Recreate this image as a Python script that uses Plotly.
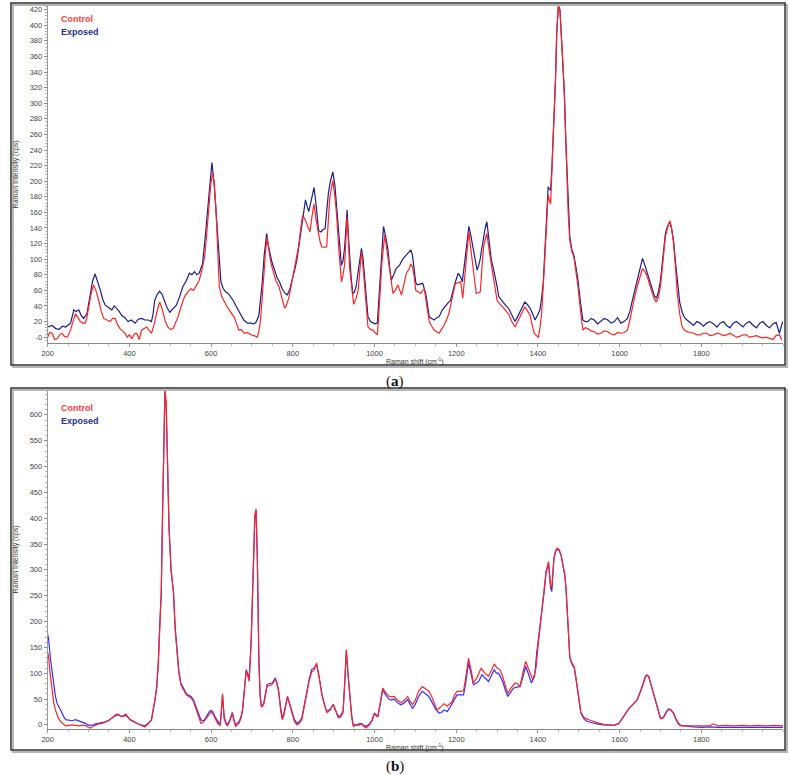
import plotly.graph_objects as go

# ---- panel (a) ----
a_exp_x = [200, 211, 220, 228, 236, 244, 256, 264, 270, 276, 282, 288, 296, 304, 310, 316, 322, 329, 335, 341,
           349, 357, 363, 369, 375, 381, 389, 397, 405, 414, 422, 430, 438, 446, 454, 458, 462, 468, 474, 480,
           486, 492, 499, 507, 515, 523, 531, 539, 547, 553, 559, 565, 571, 575, 579, 585, 592, 597, 602, 607,
           612, 618, 624, 630, 636, 642, 648, 654, 660, 666, 672, 680, 689, 697, 705, 711, 717, 721, 725, 730,
           736, 740, 745, 749, 753, 757, 761, 768, 774, 780, 786, 792, 798, 804, 810, 816, 822, 826, 831, 835,
           839, 845, 852, 857, 863, 869, 874, 879, 883, 887, 892, 898, 903, 907, 913, 919, 923, 927, 930, 933,
           936, 939, 943, 947, 951, 955, 961, 968, 972, 976, 980, 984, 990, 996, 1001, 1007, 1010, 1012, 1017, 1022,
           1027, 1033, 1037, 1041, 1047, 1053, 1061, 1069, 1077, 1085, 1089, 1093, 1097, 1101, 1105, 1111, 1118, 1122, 1126, 1130,
           1134, 1140, 1146, 1152, 1158, 1166, 1174, 1180, 1186, 1192, 1198, 1205, 1210, 1215, 1219, 1223, 1227, 1231, 1236, 1241,
           1246, 1251, 1255, 1259, 1263, 1267, 1271, 1275, 1280, 1286, 1291, 1296, 1300, 1304, 1310, 1316, 1322, 1328, 1336, 1344,
           1350, 1356, 1362, 1368, 1374, 1381, 1387, 1393, 1399, 1405, 1409, 1413, 1416, 1419, 1422, 1425, 1428, 1431, 1434, 1437,
           1440, 1443, 1446, 1450, 1454, 1458, 1462, 1465, 1468, 1471, 1474, 1478, 1483, 1488, 1493, 1498, 1504, 1510, 1516, 1522,
           1530, 1538, 1546, 1554, 1562, 1571, 1579, 1587, 1595, 1603, 1611, 1619, 1625, 1631, 1637, 1643, 1650, 1656, 1662, 1668,
           1674, 1680, 1685, 1690, 1695, 1700, 1706, 1712, 1717, 1723, 1727, 1732, 1737, 1742, 1747, 1753, 1759, 1765, 1773, 1781,
           1789, 1797, 1805, 1813, 1821, 1830, 1838, 1846, 1854, 1862, 1870, 1878, 1886, 1894, 1902, 1910, 1918, 1927, 1935, 1943,
           1951, 1959, 1967, 1975, 1983, 1991, 1995, 1999]
a_exp_y = [13, 15, 11, 10, 14, 13, 18, 35, 33, 35, 28, 24, 30, 56, 72, 81, 72, 60, 48, 41,
           38, 35, 40, 37, 33, 28, 25, 20, 22, 18, 23, 24, 22, 22, 20, 30, 47, 55, 59, 55,
           47, 38, 32, 36, 41, 52, 65, 72, 82, 80, 84, 80, 82, 88, 94, 125, 163, 200, 224, 200,
           163, 110, 71, 62, 58, 56, 52, 47, 41, 35, 30, 22, 18, 18, 17, 20, 28, 45, 69, 105,
           133, 118, 105, 96, 90, 82, 77, 70, 62, 57, 54, 60, 71, 85, 99, 120, 141, 161, 176, 168,
           161, 175, 192, 170, 137, 135, 138, 139, 160, 184, 200, 212, 195, 171, 130, 92, 98, 116, 140, 163,
           130, 99, 75, 56, 58, 65, 90, 114, 100, 77, 50, 26, 20, 18, 17, 18, 40, 65, 105, 142,
           130, 112, 90, 73, 80, 88, 92, 100, 105, 110, 112, 105, 90, 70, 67, 68, 69, 62, 54, 40,
           26, 24, 22, 25, 26, 35, 41, 44, 47, 60, 71, 82, 78, 71, 90, 107, 128, 142, 130, 116,
           98, 86, 92, 101, 115, 129, 140, 148, 125, 99, 88, 77, 65, 52, 48, 43, 40, 37, 28, 20,
           26, 32, 40, 45, 42, 37, 30, 22, 28, 35, 50, 69, 100, 133, 165, 193, 190, 188, 215, 248,
           285, 330, 390, 425, 420, 385, 345, 310, 255, 210, 165, 129, 112, 105, 90, 73, 45, 22, 20, 20,
           24, 22, 17, 20, 24, 22, 18, 20, 25, 18, 20, 24, 33, 47, 60, 73, 88, 101, 92, 82,
           70, 60, 53, 50, 58, 73, 100, 133, 142, 148, 140, 124, 95, 65, 45, 32, 25, 22, 18, 15,
           20, 18, 14, 18, 20, 17, 13, 18, 20, 15, 12, 18, 20, 17, 13, 18, 20, 15, 12, 18,
           20, 15, 12, 17, 19, 5, 12, 20]

a_ctl_x = [200, 205, 211, 217, 223, 229, 235, 241, 248, 252, 256, 262, 268, 274, 280, 286, 292, 296, 300, 306,
           312, 318, 325, 331, 337, 345, 353, 359, 365, 371, 377, 383, 389, 395, 400, 406, 412, 418, 424, 430,
           436, 442, 448, 454, 460, 466, 470, 474, 478, 482, 488, 494, 500, 507, 513, 519, 527, 535, 543, 551,
           557, 563, 567, 571, 577, 584, 589, 594, 599, 604, 608, 612, 616, 620, 626, 632, 638, 644, 650, 656,
           662, 668, 674, 681, 689, 697, 705, 713, 717, 721, 725, 729, 733, 737, 741, 745, 749, 753, 759, 766,
           772, 776, 780, 785, 790, 796, 802, 808, 814, 819, 824, 829, 834, 838, 842, 847, 852, 857, 863, 867,
           871, 877, 883, 886, 890, 894, 898, 903, 907, 913, 919, 923, 927, 930, 933, 936, 939, 944, 949, 955,
           960, 964, 968, 972, 976, 980, 984, 990, 996, 1001, 1007, 1010, 1012, 1018, 1025, 1029, 1033, 1039, 1045, 1051,
           1057, 1062, 1066, 1072, 1078, 1085, 1089, 1093, 1097, 1101, 1107, 1113, 1118, 1122, 1128, 1134, 1140, 1146, 1152, 1158,
           1164, 1170, 1176, 1182, 1190, 1198, 1205, 1211, 1216, 1220, 1224, 1228, 1231, 1236, 1241, 1245, 1249, 1254, 1259, 1263,
           1267, 1271, 1275, 1281, 1287, 1293, 1300, 1306, 1312, 1320, 1328, 1336, 1344, 1350, 1356, 1362, 1368, 1374, 1381, 1386,
           1391, 1396, 1401, 1405, 1409, 1414, 1419, 1422, 1425, 1428, 1431, 1434, 1437, 1440, 1443, 1446, 1450, 1454, 1458, 1462,
           1465, 1468, 1470, 1474, 1478, 1483, 1488, 1493, 1498, 1504, 1510, 1516, 1522, 1530, 1538, 1546, 1554, 1562, 1571, 1579,
           1587, 1595, 1603, 1611, 1619, 1625, 1631, 1637, 1643, 1650, 1656, 1662, 1668, 1674, 1680, 1685, 1690, 1695, 1700, 1706,
           1712, 1717, 1723, 1727, 1732, 1737, 1741, 1747, 1753, 1759, 1765, 1773, 1781, 1789, 1797, 1805, 1813, 1821, 1830, 1838,
           1846, 1854, 1862, 1870, 1878, 1886, 1894, 1902, 1910, 1918, 1927, 1935, 1943, 1951, 1959, 1967, 1975, 1983, 1991, 1997]
a_ctl_y = [0, 6, 5, -3, -2, 3, 5, 1, 0, 5, 9, 20, 30, 25, 20, 18, 18, 25, 37, 55,
           67, 60, 47, 33, 24, 22, 20, 24, 24, 16, 11, 8, 5, 0, 3, -2, 4, 5, -3, 9,
           11, 13, 9, 5, 15, 30, 38, 45, 40, 32, 20, 13, 10, 11, 18, 26, 40, 52, 58, 62,
           60, 65, 68, 73, 85, 103, 130, 163, 195, 212, 195, 163, 110, 65, 52, 45, 40, 35, 30, 26,
           18, 9, 10, 5, 6, 3, 2, 0, 8, 22, 50, 82, 108, 128, 112, 99, 90, 82, 72, 65,
           52, 44, 37, 42, 50, 66, 82, 100, 116, 138, 156, 152, 146, 140, 135, 155, 171, 150, 130, 122,
           116, 115, 116, 140, 176, 190, 201, 180, 158, 110, 71, 80, 94, 125, 154, 125, 90, 65, 42, 50,
           60, 85, 109, 90, 65, 35, 13, 10, 9, 6, 3, 25, 47, 95, 131, 118, 103, 80, 56, 60,
           67, 60, 54, 68, 82, 88, 94, 90, 78, 60, 58, 56, 60, 62, 40, 20, 14, 9, 7, 5,
           10, 15, 22, 30, 50, 69, 70, 71, 50, 75, 99, 120, 135, 112, 90, 72, 56, 57, 58, 90,
           116, 126, 133, 110, 90, 68, 47, 43, 39, 35, 30, 20, 13, 20, 26, 33, 39, 34, 28, 15,
           5, 2, 0, 12, 30, 75, 124, 155, 182, 176, 171, 210, 248, 285, 330, 390, 425, 418, 383, 343,
           305, 250, 205, 160, 124, 110, 103, 85, 65, 35, 9, 12, 11, 8, 7, 4, 5, 8, 7, 4,
           3, 6, 5, 6, 9, 22, 39, 52, 65, 78, 88, 84, 77, 66, 56, 49, 45, 52, 65, 95,
           129, 140, 149, 140, 120, 88, 56, 30, 13, 9, 7, 6, 5, 3, 3, 5, 5, 2, 3, 5,
           4, 2, 3, 5, 3, 0, 1, 3, 3, 0, 1, 2, 0, -1, 0, -2, -3, 2, 3, -4]

# ---- panel (b) ----
b_exp_x = [200, 202, 207, 211, 215, 219, 223, 230, 236, 240, 244, 252, 260, 268, 276, 284, 292, 300, 306, 312,
           318, 325, 333, 341, 349, 357, 363, 369, 375, 381, 386, 391, 396, 401, 410, 418, 428, 438, 446, 454,
           458, 463, 467, 471, 474, 478, 481, 484, 487, 490, 493, 497, 502, 508, 512, 517, 521, 526, 533, 539,
           545, 551, 557, 563, 569, 575, 580, 584, 590, 596, 600, 604, 610, 616, 620, 622, 625, 628, 630, 632,
           636, 640, 646, 652, 656, 660, 664, 668, 673, 677, 681, 686, 690, 693, 698, 703, 707, 710, 713, 717,
           720, 723, 726, 729, 733, 737, 743, 749, 753, 757, 761, 765, 770, 774, 778, 782, 787, 792, 798, 804,
           810, 816, 822, 828, 834, 840, 846, 852, 858, 864, 871, 877, 883, 891, 899, 905, 911, 917, 923, 927,
           931, 935, 939, 944, 948, 952, 956, 962, 968, 974, 980, 984, 988, 994, 1000, 1004, 1008, 1014, 1020, 1028,
           1036, 1042, 1048, 1056, 1064, 1072, 1081, 1087, 1093, 1100, 1108, 1117, 1125, 1133, 1140, 1150, 1158, 1164, 1170, 1178,
           1184, 1190, 1196, 1202, 1210, 1218, 1224, 1230, 1236, 1242, 1248, 1255, 1263, 1271, 1279, 1286, 1293, 1298, 1303, 1309,
           1315, 1320, 1326, 1333, 1340, 1348, 1356, 1363, 1370, 1377, 1384, 1388, 1392, 1397, 1402, 1407, 1412, 1416, 1420, 1426,
           1431, 1434, 1439, 1443, 1447, 1452, 1457, 1462, 1466, 1469, 1472, 1475, 1478, 1483, 1489, 1493, 1497, 1501, 1505, 1512,
           1518, 1528, 1538, 1550, 1562, 1574, 1586, 1598, 1604, 1611, 1617, 1623, 1633, 1643, 1653, 1663, 1667, 1671, 1677, 1683,
           1690, 1696, 1700, 1704, 1708, 1714, 1720, 1726, 1732, 1738, 1744, 1750, 1757, 1764, 1780, 1800, 1820, 1840, 1860, 1880,
           1900, 1920, 1940, 1960, 1980, 2000]
b_exp_y = [175, 168, 126, 100, 74, 55, 42, 30, 23, 15, 10, 9, 8, 10, 8, 6, 3, -1, -1, 0,
           2, 3, 5, 6, 9, 13, 16, 19, 19, 16, 17, 19, 15, 11, 7, 3, 0, -2, 3, 10,
           28, 49, 75, 126, 190, 256, 400, 550, 645, 620, 520, 380, 300, 256, 190, 139, 105, 81, 70, 61,
           57, 55, 48, 36, 22, 10, 8, 10, 18, 26, 28, 26, 15, 6, 2, 0, 25, 58, 35, 16,
           5, 0, 10, 24, 10, 0, 3, 6, 15, 29, 65, 107, 98, 87, 159, 300, 400, 415, 330, 126,
           60, 36, 38, 42, 60, 78, 80, 81, 85, 91, 82, 68, 35, 13, 22, 36, 55, 42, 26, 10,
           3, 6, 13, 38, 65, 88, 107, 110, 117, 95, 61, 40, 26, 30, 39, 28, 16, 18, 26, 80,
           142, 100, 61, 20, 0, 0, 0, 2, 3, -1, -3, 0, 2, 10, 23, 19, 16, 40, 68, 57,
           49, 48, 50, 43, 39, 42, 49, 40, 32, 40, 55, 65, 60, 55, 45, 30, 23, 24, 29, 26,
           33, 42, 52, 58, 58, 58, 85, 120, 100, 78, 80, 84, 97, 90, 84, 95, 107, 100, 100, 92,
           81, 68, 55, 63, 71, 73, 74, 92, 113, 98, 81, 88, 94, 140, 172, 200, 230, 262, 295, 312,
           265, 258, 320, 335, 340, 337, 327, 305, 288, 260, 223, 170, 130, 118, 110, 90, 68, 45, 23, 12,
           8, 5, 3, 1, 0, -1, -1, 3, 10, 19, 26, 32, 40, 49, 70, 94, 97, 94, 78, 61,
           40, 22, 13, 13, 16, 25, 31, 29, 23, 12, 3, -1, -2, -3, -4, -5, -4, -5, -5, -4,
           -5, -5, -5, -4, -5, -5]

b_ctl_x = [200, 202, 206, 211, 215, 219, 225, 232, 238, 244, 252, 260, 268, 276, 284, 292, 298, 304, 310, 317,
           325, 333, 341, 349, 357, 365, 371, 376, 381, 386, 391, 396, 401, 410, 418, 428, 438, 446, 454, 458,
           463, 467, 471, 475, 478, 481, 484, 487, 490, 493, 497, 502, 508, 512, 517, 521, 526, 533, 539, 545,
           551, 557, 563, 569, 575, 580, 584, 590, 596, 600, 604, 610, 616, 620, 622, 625, 628, 630, 632, 636,
           640, 646, 652, 656, 660, 664, 668, 673, 677, 681, 686, 690, 693, 698, 703, 707, 710, 713, 717, 720,
           723, 726, 729, 733, 737, 743, 749, 753, 757, 761, 765, 770, 774, 778, 782, 787, 792, 798, 804, 810,
           816, 822, 828, 834, 840, 846, 852, 858, 864, 871, 877, 883, 891, 899, 905, 911, 917, 923, 927, 931,
           935, 939, 944, 948, 952, 956, 962, 968, 974, 980, 984, 988, 994, 1000, 1004, 1008, 1014, 1020, 1028, 1036,
           1042, 1048, 1056, 1064, 1072, 1081, 1087, 1093, 1100, 1108, 1117, 1125, 1133, 1140, 1147, 1153, 1160, 1166, 1170, 1178,
           1184, 1190, 1196, 1202, 1210, 1218, 1224, 1230, 1236, 1242, 1250, 1256, 1261, 1270, 1279, 1286, 1293, 1300, 1307, 1313,
           1320, 1326, 1333, 1340, 1344, 1350, 1356, 1363, 1370, 1377, 1384, 1388, 1392, 1396, 1400, 1404, 1408, 1412, 1416, 1420,
           1426, 1431, 1434, 1439, 1443, 1447, 1452, 1457, 1462, 1466, 1469, 1472, 1475, 1478, 1483, 1489, 1493, 1497, 1501, 1505,
           1512, 1518, 1528, 1538, 1550, 1562, 1574, 1586, 1598, 1604, 1611, 1617, 1623, 1633, 1643, 1653, 1663, 1667, 1671, 1677,
           1683, 1690, 1696, 1700, 1704, 1708, 1714, 1720, 1726, 1732, 1738, 1744, 1750, 1757, 1764, 1780, 1800, 1820, 1830, 1840,
           1860, 1880, 1900, 1920, 1940, 1960, 1980, 2000]
b_ctl_y = [140, 133, 100, 61, 42, 29, 15, 6, 2, -2, -1, 0, -1, -2, -1, -1, -4, -6, -3, 0,
           2, 3, 5, 8, 13, 19, 21, 19, 16, 18, 21, 16, 10, 6, 3, -1, -4, 2, 9, 27,
           48, 72, 120, 190, 256, 400, 550, 648, 625, 525, 385, 300, 256, 185, 135, 100, 78, 66, 58, 55,
           52, 45, 32, 16, 3, 4, 8, 15, 22, 25, 22, 12, 3, 0, -1, 25, 60, 35, 12, 2,
           -2, 8, 22, 8, -3, 0, 3, 12, 27, 62, 105, 95, 84, 160, 305, 405, 418, 330, 122, 55,
           35, 36, 40, 58, 75, 76, 78, 83, 89, 80, 66, 30, 10, 18, 33, 54, 40, 22, 6, 0,
           3, 10, 36, 62, 85, 102, 106, 120, 95, 58, 38, 24, 28, 40, 27, 14, 15, 24, 80, 146,
           100, 58, 15, -3, -2, 0, -1, 2, -3, -6, -2, 0, 8, 22, 18, 15, 42, 71, 62, 55,
           54, 55, 48, 43, 47, 55, 46, 39, 48, 65, 74, 70, 65, 55, 40, 29, 33, 38, 41, 36,
           40, 45, 58, 65, 65, 66, 95, 129, 108, 81, 90, 100, 110, 100, 94, 105, 118, 110, 107, 95,
           78, 61, 70, 78, 81, 80, 74, 100, 123, 108, 92, 87, 100, 113, 150, 180, 205, 232, 265, 298,
           316, 270, 265, 322, 337, 342, 339, 328, 306, 290, 262, 225, 172, 132, 120, 112, 92, 70, 47, 25,
           15, 12, 9, 6, 3, 1, 0, -1, 2, 9, 18, 25, 32, 40, 48, 68, 92, 96, 94, 77,
           60, 38, 20, 12, 12, 15, 24, 30, 28, 22, 10, 1, -2, -2, -1, -2, -1, -2, 2, -2,
           -1, -2, -1, -2, -1, -2, -1, -2]

a_yticks = list(range(0, 421, 20))
a_ytext = ['-0'] + [str(v) for v in a_yticks[1:]]
b_yticks = list(range(0, 601, 50))
x_ticks = list(range(200, 1801, 200))

W, H = 789, 775
RED = '#ff2424'
NAVY = '#1c1c8c'
BLUE = '#2f2fff'
FONT = 'Liberation Sans, Arial, sans-serif'


def px(x):
    return x / W


def py(y):
    return 1 - y / H


fig = go.Figure()
fig.add_trace(go.Scatter(x=a_exp_x, y=a_exp_y, mode='lines', line=dict(color=NAVY, width=1.2),
                         xaxis='x', yaxis='y', name='Exposed'))
fig.add_trace(go.Scatter(x=a_ctl_x, y=a_ctl_y, mode='lines', line=dict(color=RED, width=1.2),
                         xaxis='x', yaxis='y', name='Control'))
fig.add_trace(go.Scatter(x=b_exp_x, y=b_exp_y, mode='lines', line=dict(color=BLUE, width=1.2),
                         xaxis='x2', yaxis='y2', name='Exposed'))
fig.add_trace(go.Scatter(x=b_ctl_x, y=b_ctl_y, mode='lines', line=dict(color=RED, width=1.2),
                         xaxis='x2', yaxis='y2', name='Control'))

tickfont = dict(family=FONT, size=7.5, color='#444')
xax = dict(range=[200, 2000], tickvals=x_ticks, showgrid=False, zeroline=False, showline=True,
           linecolor='#888', linewidth=1, ticks='outside', ticklen=3, tickcolor='#999',
           tickfont=tickfont, minor=dict(ticks='outside', ticklen=2, dtick=50, tickcolor='#bbb'))
yax = dict(showgrid=False, zeroline=False, showline=True, linecolor='#999', linewidth=1,
           ticks='outside', ticklen=3, tickcolor='#888', tickfont=tickfont)

fig.update_layout(
    width=W, height=H, margin=dict(l=0, r=0, t=0, b=0),
    paper_bgcolor='white', plot_bgcolor='white', showlegend=False,
    xaxis=dict(xax, domain=[px(42), px(783)], anchor='y'),
    yaxis=dict(yax, domain=[py(343), py(5)], range=[-7.5, 426], tickvals=a_yticks, ticktext=a_ytext,
               anchor='x', minor=dict(ticks='outside', ticklen=2, dtick=4, tickcolor='#bbb')),
    xaxis2=dict(xax, domain=[px(42), px(783)], anchor='y2'),
    yaxis2=dict(yax, domain=[py(729), py(389)], range=[-8, 650], tickvals=b_yticks,
                anchor='x2', minor=dict(ticks='outside', ticklen=2, dtick=10, tickcolor='#bbb')),
)

# panel frames with a light shadow
shapes = []
for top, bot in [(3, 365), (388, 750)]:
    shapes.append(dict(type='rect', xref='paper', yref='paper', x0=px(7), x1=px(787),
                       y0=py(bot + 2), y1=py(top + 2), line=dict(color='#b5b5b5', width=2)))
    shapes.append(dict(type='rect', xref='paper', yref='paper', x0=px(5), x1=px(785),
                       y0=py(bot), y1=py(top), line=dict(color='#333', width=1.5)))
fig.update_layout(shapes=shapes)


def note(text, x, y, size, color, xanchor='center', family=FONT, angle=0):
    return dict(text=text, x=px(x), y=py(y), xref='paper', yref='paper', showarrow=False,
                xanchor=xanchor, yanchor='middle', textangle=angle,
                font=dict(family=family, size=size, color=color))


ann = []
for top_plot, bot_plot, leg_y in [(5, 343, 19), (389, 729, 408)]:
    ann.append(note('Raman shift (cm<sup>-1</sup>)', 412, bot_plot + 18, 7, '#333'))
    ann.append(note('Raman Intensity (cps)', 10.5, (top_plot + bot_plot) / 2, 7, '#333', angle=-90))
    ann.append(note('<b>Control</b>', 53, leg_y, 9, '#ff3b3b', xanchor='left'))
    ann.append(note('<b>Exposed</b>', 53, leg_y + 12.5, 9, '#1f2f8f', xanchor='left'))
ann.append(note('(<b>a</b>)', 392, 381, 15, '#111', family='Liberation Serif, serif'))
ann.append(note('(<b>b</b>)', 392, 766, 15, '#111', family='Liberation Serif, serif'))
fig.update_layout(annotations=ann)

fig.write_html("out.html", config={'displayModeBar': False},
               post_script="document.body.style.margin='0px';")
